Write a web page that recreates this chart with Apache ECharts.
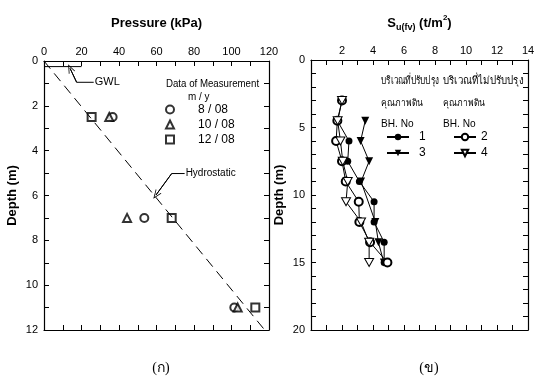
<!DOCTYPE html>
<html><head><meta charset="utf-8">
<script src="https://cdn.jsdelivr.net/npm/echarts/dist/echarts.min.js"></script>
<style>html,body{margin:0;padding:0;background:#fff}#c{width:534px;height:376px}</style>
</head><body><div id="c"></div>
<script>
// ---------- Left panel (ก): pressure vs depth ----------
const pressureRange = [0, 120];
const depthRangeLeft = [0, 12];
const measureNames = ['8 / 08', '10 / 08', '12 / 08'];
const measureDepths = [2.5, 7, 11];
const pressure_8_08 = [36.6, 53.5, 101.5];
const pressure_10_08 = [34.8, 44.3, 103.3];
const pressure_12_08 = [25.4, 68.1, 112.7];
const hydroPressure = [0, 117.7];
const hydroDepth = [0, 12];
const gwlPressure = [0, 20];
const gwlDepth = [0.25, 0.25];
// annotation leader points (data coordinates)
const gwlLeaderX = [26.5, 17.4, 13.9];
const gwlLeaderY = [0.95, 0.95, 0.33];
const hydroLeaderX = [75, 68.1, 59.7];
const hydroLeaderY = [5.02, 5.02, 5.98];

// ---------- Right panel (ข): Su(fv) vs depth ----------
const suRange = [0, 14];
const depthRangeRight = [0, 20];
const bh1Depth = [4.5, 6, 7.5, 9, 10.5, 12, 13.5, 15];
const bh1Su    = [1.7, 2.45, 2.37, 3.12, 4.07, 4.07, 4.72, 4.72];
const bh3Depth = [4.5, 6, 7.5, 9, 12, 13.5, 15];
const bh3Su    = [3.5, 3.2, 3.75, 3.23, 4.15, 4.35, 4.7];
const bh2Depth = [3, 4.5, 6, 7.5, 9, 10.5, 12, 13.5, 15];
const bh2Su    = [2.0, 1.7, 1.62, 2.0, 2.24, 3.08, 3.12, 3.81, 4.93];
const bh4Depth = [3, 4.5, 6, 7.5, 9, 10.5, 12, 13.5, 15];
const bh4Su    = [2.0, 1.72, 1.9, 2.05, 2.37, 2.26, 3.23, 3.75, 3.75];

const FONT = 'Liberation Sans, Arial, sans-serif';
const zip = (xs, ys) => xs.map((x, i) => [x, ys[i]]);
const triDown = 'path://M0,0 L10,0 L5,9 Z';
const chevron = 'path://M0,10 L5,0 L10,10 L8.8,10 L5,2.4 L1.2,10 Z';

function xAx(grid, range, interval, top, name, hideZero) {
  return {
    gridIndex: grid, type: 'value', min: range[0], max: range[1], interval: interval,
    position: top ? 'top' : 'bottom',
    name: top ? name : '', nameLocation: 'middle', nameGap: 31,
    nameTextStyle: { fontFamily: FONT, fontSize: 13, fontWeight: 'bold', color: '#000' },
    axisLine: { show: true, onZero: false, lineStyle: { color: '#000', width: 1.2 } },
    axisTick: { show: true, inside: true, length: 5, lineStyle: { color: '#000' } },
    minorTick: { show: true, splitNumber: 2, length: 5, lineStyle: { color: '#000' } },
    axisLabel: { show: !!top, color: '#000', fontFamily: FONT, fontSize: 11, margin: 4,
      formatter: v => (hideZero && v === 0) ? '' : String(v) },
    splitLine: { show: false }
  };
}
function yAx(grid, range, interval, left, minorSplit) {
  return {
    gridIndex: grid, type: 'value', min: range[0], max: range[1], interval: interval, inverse: true,
    position: left ? 'left' : 'right',
    name: left ? 'Depth (m)' : '', nameLocation: 'middle', nameGap: 25, nameRotate: 90,
    nameTextStyle: { fontFamily: FONT, fontSize: 13, fontWeight: 'bold', color: '#000' },
    axisLine: { show: true, onZero: false, lineStyle: { color: '#000', width: 1.2 } },
    axisTick: { show: true, inside: true, length: 5, lineStyle: { color: '#000' } },
    minorTick: { show: true, splitNumber: minorSplit, length: 5, lineStyle: { color: '#000' } },
    axisLabel: { show: !!left, color: '#000', fontFamily: FONT, fontSize: 11, margin: 6 },
    splitLine: { show: false }
  };
}

const xAxes = [
  xAx(0, pressureRange, 20, true, 'Pressure (kPa)', false),
  xAx(0, pressureRange, 20, false),
  Object.assign(xAx(1, suRange, 2, true, '{s|S}{sub|u(fv)}{s| (t/m}{sup|2}{s|)}', true), {
    nameGap: 28,
    nameTextStyle: { color: '#000', rich: {
      s: { fontFamily: FONT, fontSize: 13, fontWeight: 'bold', color: '#000', lineHeight: 18, verticalAlign: 'middle' },
      sub: { fontFamily: FONT, fontSize: 9, fontWeight: 'bold', color: '#000', lineHeight: 18, verticalAlign: 'bottom' },
      sup: { fontFamily: FONT, fontSize: 8, fontWeight: 'bold', color: '#000', lineHeight: 18, verticalAlign: 'top' }
    } }
  }),
  xAx(1, suRange, 2, false)
];
const yAxes = [
  yAx(0, depthRangeLeft, 2, true, 2),
  yAx(0, depthRangeLeft, 2, false, 2),
  yAx(1, depthRangeRight, 5, true, 5),
  yAx(1, depthRangeRight, 5, false, 5)
];

const blk = '#000';
const leader = (xs, ys, text, fs) => ({
  type: 'line', xAxisIndex: 0, yAxisIndex: 0, silent: true, legendHoverLink: false,
  data: zip(xs, ys).map((p, i) => i === 0 ? {
    value: p, symbol: 'circle', symbolSize: 0,
    label: { show: true, formatter: text, position: 'right', distance: 1, color: '#000', fontFamily: FONT, fontSize: fs }
  } : { value: p, symbolSize: 0 }),
  symbol: 'circle', symbolSize: 0, lineStyle: { color: blk, width: 1 }, z: 5,
  markLine: {
    silent: true, symbol: ['none', chevron], symbolSize: [7, 9],
    lineStyle: { color: blk, width: 1, type: 'solid' }, label: { show: false },
    data: [[{ coord: [xs[1], ys[1]] }, { coord: [xs[2], ys[2]] }]]
  }
});
const txt = (x, y, text, size, sx) => ({
  type: 'text', x: x, y: y, scaleX: sx || 1, scaleY: 1,
  style: { text: text, fill: '#000', font: size + 'px ' + FONT, verticalAlign: 'middle', align: 'left' }
});

const option = {
  animation: false,
  backgroundColor: '#fff',
  grid: [
    { left: 44, top: 61, width: 225, height: 269, outerBoundsMode: 'none', containLabel: false },
    { left: 311, top: 60, width: 217, height: 270, outerBoundsMode: 'none', containLabel: false }
  ],
  xAxis: xAxes,
  yAxis: yAxes,
  legend: [
    { data: measureNames, orient: 'vertical', left: 160, top: 98, itemWidth: 8, itemHeight: 8, itemGap: 2,
      selectedMode: false, textStyle: { color: '#000', fontFamily: FONT, fontSize: 12, lineHeight: 13, padding: [0, 0, 0, 19] } },
    { data: ['1', '3'], orient: 'vertical', left: 381, top: 126, itemWidth: 22, itemHeight: 8, itemGap: 4,
      selectedMode: false, textStyle: { color: '#000', fontFamily: FONT, fontSize: 12, lineHeight: 12, padding: [0, 0, 0, 5] } },
    { data: ['2', '4'], orient: 'vertical', left: 448, top: 126, itemWidth: 22, itemHeight: 8, itemGap: 4,
      selectedMode: false, textStyle: { color: '#000', fontFamily: FONT, fontSize: 12, lineHeight: 12, padding: [0, 0, 0, 0] } }
  ],
  graphic: [
    txt(166, 84, 'Data of Measurement', 11, 0.88),
    txt(188, 97, 'm / y', 11, 0.9),
    txt(381, 81, 'บริเวณที่ปรับปรุง', 11, 0.74),
    txt(443, 81, 'บริเวณที่ไม่ปรับปรุง', 11, 0.88),
    txt(381, 103, 'คุณภาพดิน', 10, 0.85),
    txt(443, 103, 'คุณภาพดิน', 10, 0.85),
    txt(381, 124, 'BH. No', 11, 0.92),
    txt(443, 124, 'BH. No', 11, 0.92),
    { type: 'text', x: 161, y: 368, style: { text: '(ก)', fill: '#000', font: '14px Liberation Serif, serif', align: 'center', verticalAlign: 'middle' } },
    { type: 'text', x: 429, y: 368, style: { text: '(ข)', fill: '#000', font: '14px Liberation Serif, serif', align: 'center', verticalAlign: 'middle' } }
  ],
  series: [
    { name: measureNames[0], type: 'scatter', xAxisIndex: 0, yAxisIndex: 0, symbol: 'emptyCircle', symbolSize: 8,
      itemStyle: { color: blk, borderColor: blk, borderWidth: 1 }, data: zip(pressure_8_08, measureDepths) },
    { name: measureNames[1], type: 'scatter', xAxisIndex: 0, yAxisIndex: 0, symbol: 'emptyTriangle', symbolSize: 8,
      itemStyle: { color: blk, borderColor: blk, borderWidth: 1 }, data: zip(pressure_10_08, measureDepths) },
    { name: measureNames[2], type: 'scatter', xAxisIndex: 0, yAxisIndex: 0, symbol: 'emptyRect', symbolSize: 8,
      itemStyle: { color: blk, borderColor: blk, borderWidth: 1 }, data: zip(pressure_12_08, measureDepths) },
    { name: 'Hydrostatic', type: 'line', xAxisIndex: 0, yAxisIndex: 0, symbol: 'none', silent: true,
      lineStyle: { color: blk, width: 1, type: [10, 6] }, data: zip(hydroPressure, hydroDepth) },
    { name: 'GWL', type: 'line', xAxisIndex: 0, yAxisIndex: 0, symbol: 'none', silent: true,
      lineStyle: { color: blk, width: 1 }, data: zip(gwlPressure, gwlDepth) },
    leader(gwlLeaderX, gwlLeaderY, 'GWL', 11),
    leader(hydroLeaderX, hydroLeaderY, 'Hydrostatic', 10),

    { name: '1', type: 'line', xAxisIndex: 2, yAxisIndex: 2, symbol: 'circle', symbolSize: 7,
      lineStyle: { color: blk, width: 1 }, itemStyle: { color: blk }, data: zip(bh1Su, bh1Depth) },
    { name: '3', type: 'line', xAxisIndex: 2, yAxisIndex: 2, symbol: triDown, symbolSize: [8, 8],
      lineStyle: { color: blk, width: 1 }, itemStyle: { color: blk }, data: zip(bh3Su, bh3Depth) },
    { name: '2', type: 'line', xAxisIndex: 2, yAxisIndex: 2, symbol: 'emptyCircle', symbolSize: 8,
      lineStyle: { color: blk, width: 1 }, itemStyle: { color: blk, borderWidth: 1 }, data: zip(bh2Su, bh2Depth) },
    { name: '4', type: 'line', xAxisIndex: 2, yAxisIndex: 2, symbol: triDown, symbolSize: [9, 8],
      lineStyle: { color: blk, width: 1 }, itemStyle: { color: '#fff', borderColor: blk, borderWidth: 1 }, data: zip(bh4Su, bh4Depth) }
  ]
};
const chart = echarts.init(document.getElementById('c'), null, { renderer: 'canvas' });
chart.setOption(option);
</script></body></html>
